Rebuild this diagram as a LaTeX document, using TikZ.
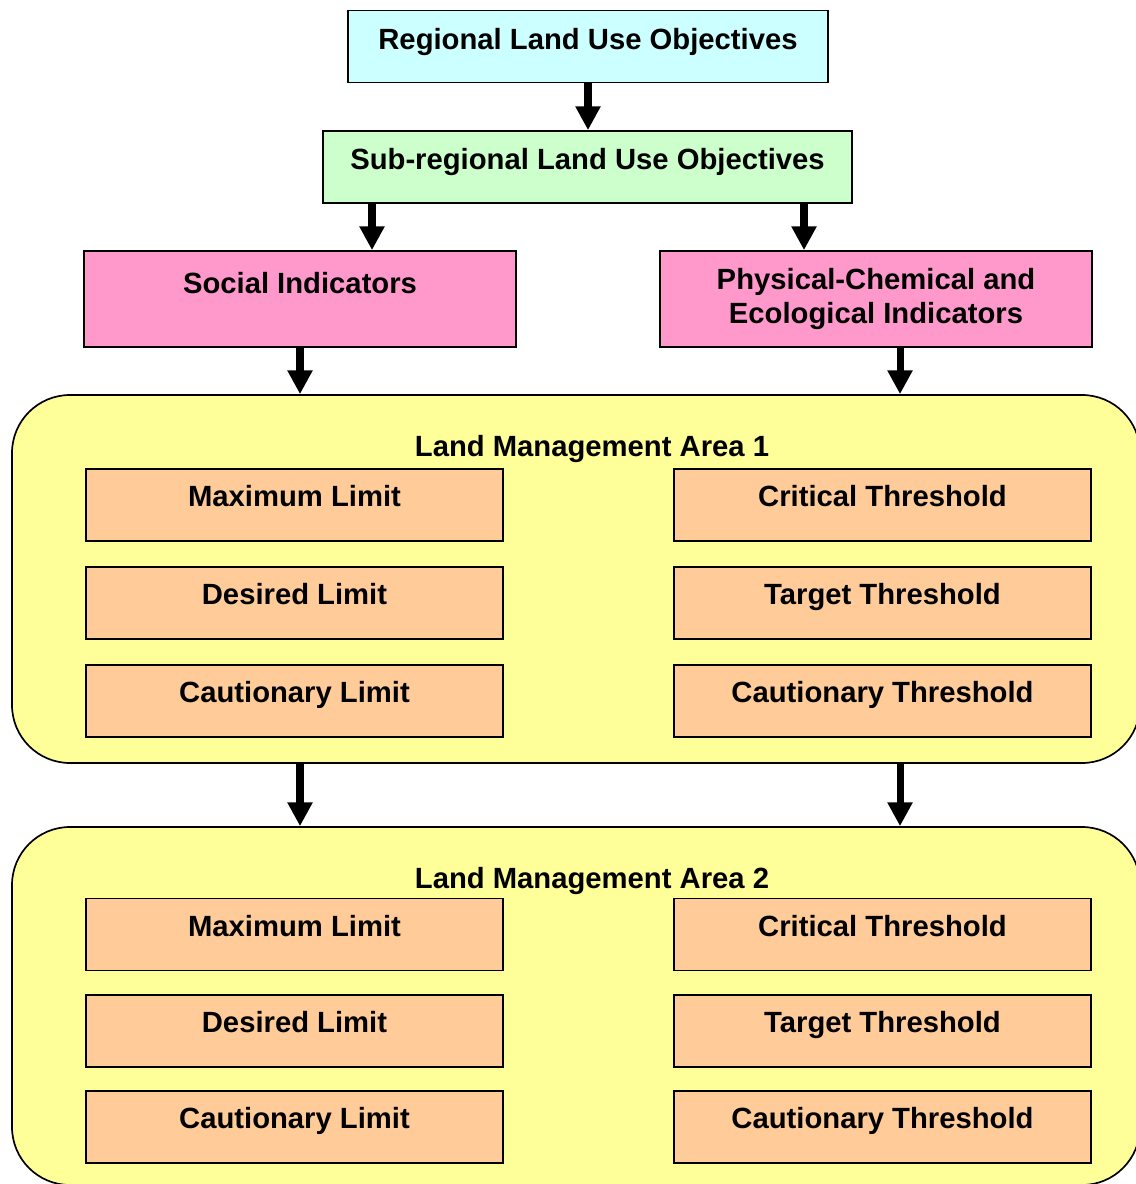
\documentclass[tikz,border=0pt]{standalone}
\usepackage{fontspec}
\setmainfont{Liberation Sans}
\usetikzlibrary{arrows.meta, positioning}

\definecolor{objcyan}{HTML}{CCFFFF}
\definecolor{objgreen}{HTML}{CCFFCC}
\definecolor{indpink}{HTML}{FF99CC}
\definecolor{areayellow}{HTML}{FFFF99}
\definecolor{limorange}{HTML}{FFCC99}

\begin{document}
\begin{tikzpicture}[
    font=\fontsize{20.8}{24}\selectfont\bfseries,
    objective/.style={
        rectangle, draw=black, line width=1.2pt,
        minimum height=1.8cm, inner sep=0pt,
        text height=0.75em, text depth=0.38em
    },
    indicator/.style={
        rectangle, draw=black, line width=1.2pt,
        fill=indpink,
        minimum width=10.8cm, minimum height=2.4cm, align=center, inner sep=0pt
    },
    area/.style={
        rectangle, rounded corners=1.45cm, draw=black, line width=1.2pt,
        fill=areayellow,
        minimum width=28.2cm, inner sep=0pt
    },
    limit/.style={
        rectangle, draw=black, line width=1.2pt,
        fill=limorange,
        minimum width=10.425cm, minimum height=1.8cm, inner sep=0pt,
        text height=0.75em, text depth=0.52em
    },
    arrow/.style={-{Triangle[length=17pt,width=17pt]}, line width=5pt}
]

\useasboundingbox (0,0) rectangle (28.375,-29.6);

% 1. TOP SECTION: Objectives
\node[objective, fill=objcyan, minimum width=12cm] (Regional) at (14.7, -1.1625) {Regional Land Use Objectives};
\node[objective, fill=objgreen, minimum width=13.225cm] (SubRegional) at (14.6875, -4.175) {Sub-regional Land Use Objectives};
\draw[arrow] (Regional.south) -- (Regional.south |- SubRegional.north);

% 2. INDICATORS
\node[indicator, text height=0.75em, text depth=1.6em] (Social) at (7.5, -7.475) {Social Indicators};
\node[indicator] (Physical) at (21.9, -7.475) {Physical-Chemical and\\Ecological Indicators};

\coordinate (SocialIn) at ([xshift=1.8cm]Social.north);
\coordinate (PhysicalIn) at ([xshift=-1.8cm]Physical.north);
\coordinate (PhysicalOut) at ([xshift=0.6cm]Physical.south);
\draw[arrow] (SubRegional.south -| SocialIn) -- (SocialIn);
\draw[arrow] (SubRegional.south -| PhysicalIn) -- (PhysicalIn);

% 3. LAND MANAGEMENT AREA 1
\node[area, minimum height=9.2cm] (Area1) at (14.4, -14.475) {};
\node (Title1) at (14.8, -11.225) {Land Management Area 1};

\node[limit] (MaxLim1) at (7.3625, -12.625) {Maximum Limit};
\node[limit] (DesLim1) at (7.3625, -15.075) {Desired Limit};
\node[limit] (CauLim1) at (7.3625, -17.525) {Cautionary Limit};
\node[limit] (CritThr1) at (22.0625, -12.625) {Critical Threshold};
\node[limit] (TargThr1) at (22.0625, -15.075) {Target Threshold};
\node[limit] (CauThr1) at (22.0625, -17.525) {Cautionary Threshold};

\draw[arrow] (Social.south) -- (Social.south |- Area1.north);
\draw[arrow] (PhysicalOut) -- (PhysicalOut |- Area1.north);

% 4. LAND MANAGEMENT AREA 2
\node[area, minimum height=8.95cm] (Area2) at (14.4, -25.15) {};
\node (Title2) at (14.8, -22.025) {Land Management Area 2};

\node[limit] (MaxLim2) at (7.3625, -23.3625) {Maximum Limit};
\node[limit] (DesLim2) at (7.3625, -25.775) {Desired Limit};
\node[limit] (CauLim2) at (7.3625, -28.175) {Cautionary Limit};
\node[limit] (CritThr2) at (22.0625, -23.3625) {Critical Threshold};
\node[limit] (TargThr2) at (22.0625, -25.775) {Target Threshold};
\node[limit] (CauThr2) at (22.0625, -28.175) {Cautionary Threshold};

\draw[arrow] (Area1.south -| Social) -- (Area2.north -| Social);
\draw[arrow] (Area1.south -| PhysicalOut) -- (Area2.north -| PhysicalOut);

\end{tikzpicture}
\end{document}
